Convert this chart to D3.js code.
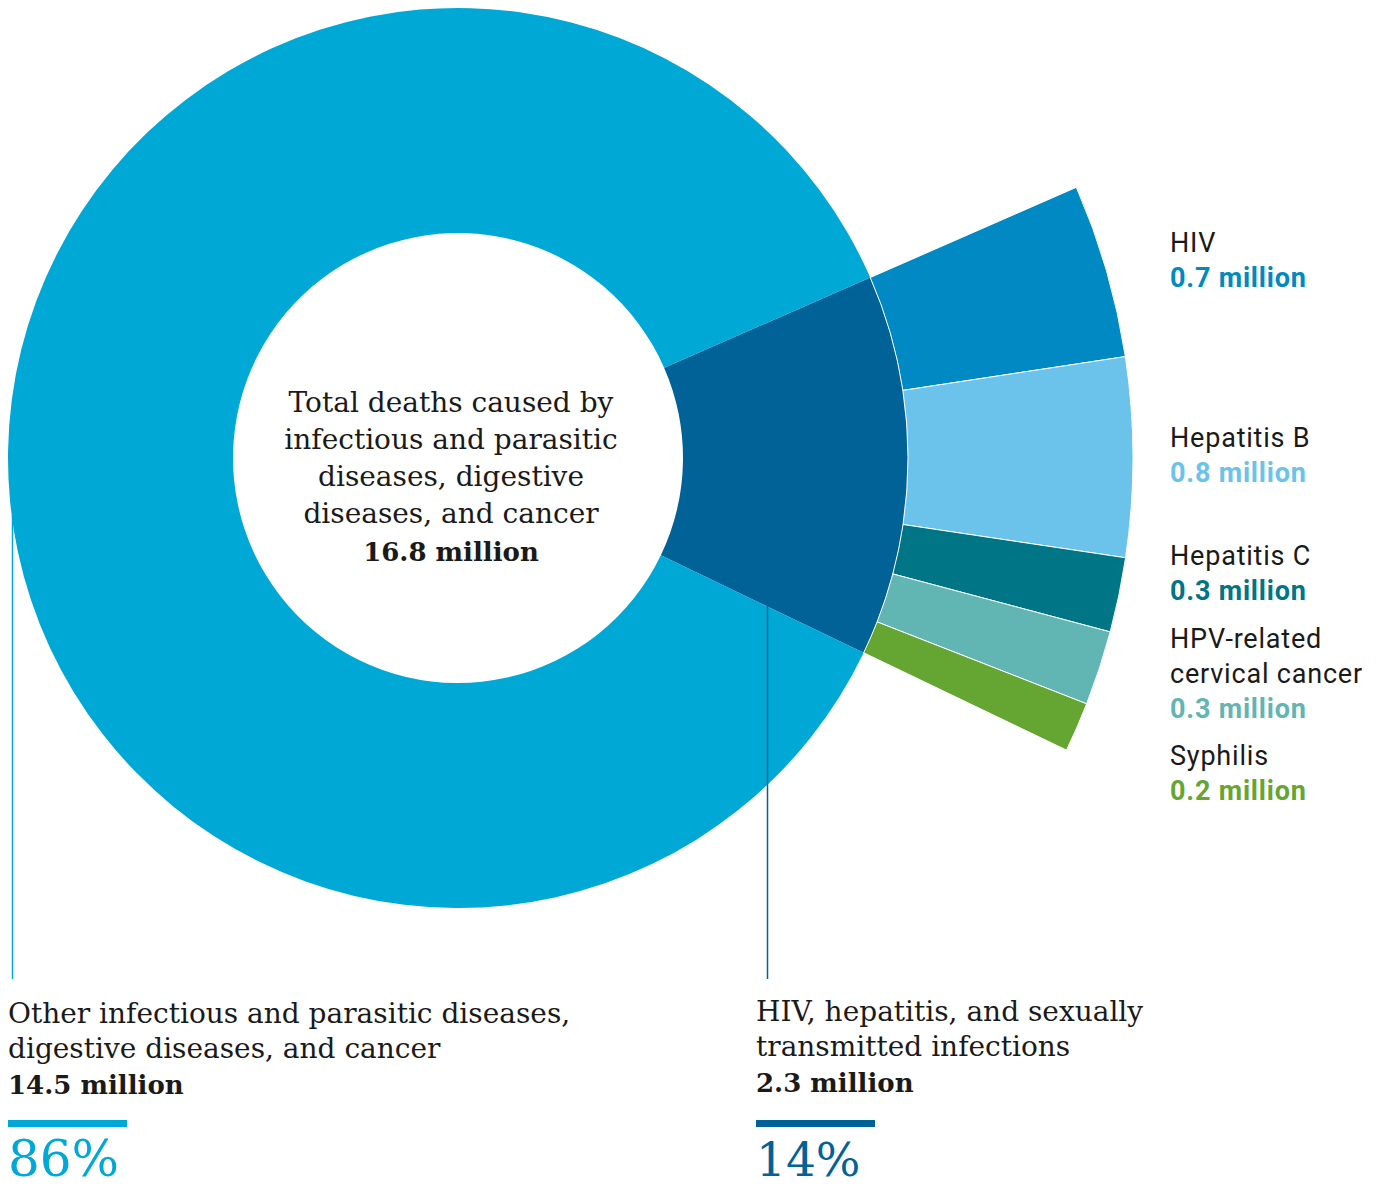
<!DOCTYPE html>
<meta charset="utf-8">
<style>
body { margin:0; background:#fff; }
svg { display:block; }
.serif { font-family:"DejaVu Serif", serif; fill:#1a1a1a; }
.serif .bold { font-weight:bold; font-size:26px; }
.sans { font-family:Roboto, "Liberation Sans", sans-serif; fill:#1a1a1a; letter-spacing:0.8px; }
</style>
<body>
<svg width="1383" height="1187" id="vis"></svg>
</body>
<script src="https://d3js.org/d3.v7.min.js"></script>
<script>
// main split (million deaths)
var groups = ["HIV, hepatitis, and sexually transmitted infections",
              "Other infectious and parasitic diseases, digestive diseases, and cancer"];
var groupValues = [2.3, 14.5];
var groupShares = ["14%", "86%"];
var total = 16.8;

// breakdown of the 2.3 million
var subCategories = ["HIV", "Hepatitis B", "Hepatitis C", "HPV-related cervical cancer", "Syphilis"];
var subValues = [0.7, 0.8, 0.3, 0.3, 0.2];

var groupColours = ["#006296", "#00a8d6"];
var subColours = ["#0089c2", "#6bc2eb", "#007585", "#61b5b3", "#65a532"];

var svg = d3.select("svg");
var cx = 458, cy = 458;
var rInner = 225, rOuter = 450, rFan = 675;
var deg = Math.PI / 180;

var g = svg.append("g").attr("transform", "translate(" + cx + "," + cy + ")");

// small group centred just below 3 o'clock
var span = groupValues[0] / d3.sum(groupValues) * 2 * Math.PI;
var start = 91 * deg - span / 2;

var pie = d3.pie().sort(null).startAngle(start).endAngle(start + 2 * Math.PI);
var arcs = pie(groupValues);

var arc = d3.arc().innerRadius(rInner).outerRadius(rOuter);

g.selectAll(".main").data(arcs).enter().append("path")
    .attr("class", "main")
    .attr("d", arc)
    .attr("fill", function(d, i) { return groupColours[i]; });

var fanPie = d3.pie().sort(null).startAngle(arcs[0].startAngle).endAngle(arcs[0].endAngle);
var fanArc = d3.arc().innerRadius(rOuter).outerRadius(rFan);

g.selectAll(".fan").data(fanPie(subValues)).enter().append("path")
    .attr("class", "fan")
    .attr("d", fanArc)
    .attr("fill", function(d, i) { return subColours[i]; })
    .attr("stroke", "#fff")
    .attr("stroke-width", 1);

// centre label
var centreLines = ["Total deaths caused by", "infectious and parasitic", "diseases, digestive", "diseases, and cancer"];
var ct = svg.append("text").attr("class", "serif").attr("text-anchor", "middle").style("font-size", "28px");
centreLines.forEach(function(l, i) {
  ct.append("tspan").attr("x", 451).attr("y", 412 + i * 37).text(l);
});
ct.append("tspan").attr("class", "bold").attr("x", 451).attr("y", 561).text(total + " million");

// leader lines
svg.append("line").attr("x1", 12.5).attr("x2", 12.5).attr("y1", 515).attr("y2", 979)
    .attr("stroke", groupColours[1]).attr("stroke-width", 1.5);
svg.append("line").attr("x1", 767.5).attr("x2", 767.5).attr("y1", 552).attr("y2", 979)
    .attr("stroke", groupColours[0]).attr("stroke-width", 1.5);

// bottom group labels
function groupLabel(x, y0, lines, value, share, colour, size) {
  var t = svg.append("text").attr("class", "serif").style("font-size", "28px");
  lines.forEach(function(l, i) {
    t.append("tspan").attr("x", x).attr("y", y0 + i * 35).text(l);
  });
  t.append("tspan").attr("class", "bold").attr("x", x).attr("y", y0 + lines.length * 35 + 1)
      .text(value + " million");
  svg.append("rect").attr("x", x).attr("y", 1120).attr("width", 119).attr("height", 7).attr("fill", colour);
  svg.append("text").attr("class", "serif").attr("x", x).attr("y", 1176)
      .style("font-size", size + "px").style("fill", colour).text(share);
}
groupLabel(8, 1023, ["Other infectious and parasitic diseases,", "digestive diseases, and cancer"],
           groupValues[1], groupShares[1], groupColours[1], 50);
groupLabel(756, 1021, ["HIV, hepatitis, and sexually", "transmitted infections"],
           groupValues[0], groupShares[0], groupColours[0], 47);

// right-hand sub labels
var labelTop = [252, 447, 565, 648, 765];
var subLines = [["HIV"], ["Hepatitis B"], ["Hepatitis C"], ["HPV-related", "cervical cancer"], ["Syphilis"]];
subLines.forEach(function(lines, i) {
  var t = svg.append("text").attr("class", "sans").style("font-size", "27px");
  lines.forEach(function(l, j) {
    t.append("tspan").attr("x", 1170).attr("y", labelTop[i] + j * 35).text(l);
  });
  t.append("tspan").attr("x", 1170).attr("y", labelTop[i] + lines.length * 35)
      .style("font-weight", "bold").style("fill", subColours[i]).text(subValues[i] + " million");
});
</script>
